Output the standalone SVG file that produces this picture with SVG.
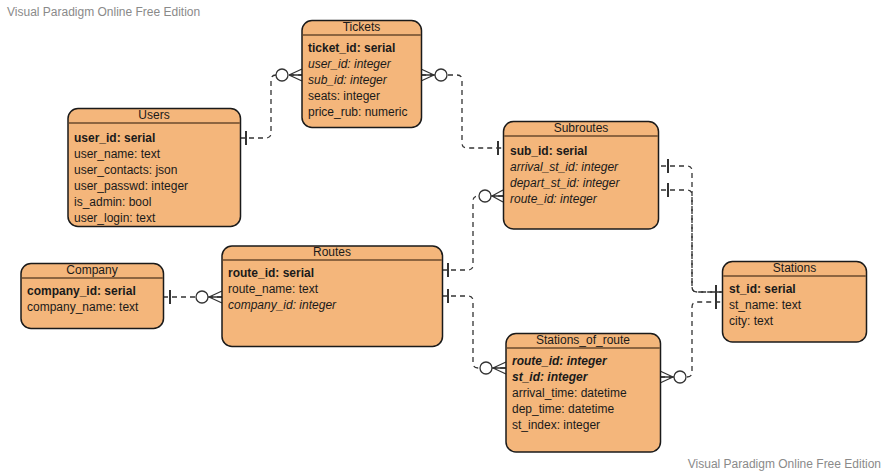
<svg xmlns="http://www.w3.org/2000/svg" width="887" height="473" viewBox="0 0 887 473">
<style>
.box{fill:#F4B67B;stroke:#1a1a1a;stroke-width:1.5}
.sep{stroke:#6b4a2c;stroke-width:1.5}
text{font-family:"Liberation Sans",Arial,sans-serif;font-size:12px;fill:#1a1a1a}
.title{text-anchor:middle}
.b{font-weight:bold}
.i{font-style:italic}
.wm{fill:#8a8a8a}
.con{fill:none;stroke:#333;stroke-width:1.3;stroke-dasharray:5,4}
.crow{fill:none;stroke:#333;stroke-width:1.3}
.circ{fill:#fff;stroke:#333;stroke-width:1.3}
.bar{stroke:#333;stroke-width:2}
</style>
<rect width="887" height="473" fill="#fff"/>
<text class="wm" x="7" y="16">Visual Paradigm Online Free Edition</text>
<text class="wm" x="881" y="468" text-anchor="end">Visual Paradigm Online Free Edition</text>

<g id="connectors">
  <g id="c-users-tickets">
    <path class="con" d="M240,138 H266 Q271,138 271,133 V80 Q271,75 276,75 H302"/>
    <line class="bar" x1="246" y1="131" x2="246" y2="145"/>
    <path class="crow" d="M289,75 L302,69 M289,75 L302,75 M289,75 L302,81"/>
    <circle class="circ" cx="282" cy="75" r="6"/>
  </g>
  <g id="c-tickets-subroutes">
    <path class="con" d="M421,75 H457 Q462,75 462,80 V143 Q462,148 467,148 H503"/>
    <path class="crow" d="M434,75 L421,69 M434,75 L421,75 M434,75 L421,81"/>
    <circle class="circ" cx="441" cy="75" r="6"/>
    <line class="bar" x1="498" y1="141" x2="498" y2="155"/>
  </g>
  <g id="c-subroutes-stations-arr">
    <path class="con" d="M661,166 H687 Q692,166 692,171 V287 Q692,292 697,292 H722"/>
    <line class="bar" x1="668" y1="159" x2="668" y2="173"/>
  </g>
  <g id="c-subroutes-stations-dep">
    <path class="con" d="M661,190 H687 Q692,190 692,195 V287 Q692,292 697,292 H722"/>
    <line class="bar" x1="668" y1="183" x2="668" y2="197"/>
    <line class="bar" x1="716" y1="285" x2="716" y2="299"/>
  </g>
  <g id="c-sor-stations">
    <path class="con" d="M660,377 H687 Q692,377 692,372 V307 Q692,302 697,302 H722"/>
    <path class="crow" d="M673,377 L660,371 M673,377 L660,377 M673,377 L660,383"/>
    <circle class="circ" cx="680" cy="377" r="6"/>
    <line class="bar" x1="716" y1="295" x2="716" y2="309"/>
  </g>
  <g id="c-routes-subroutes">
    <path class="con" d="M442,270 H468 Q473,270 473,265 V201 Q473,196 478,196 H503"/>
    <line class="bar" x1="448" y1="263" x2="448" y2="277"/>
    <path class="crow" d="M492,196 L503,190 M492,196 L503,196 M492,196 L503,202"/>
    <circle class="circ" cx="485" cy="196" r="6"/>
  </g>
  <g id="c-routes-sor">
    <path class="con" d="M442,296 H468 Q473,296 473,301 V363 Q473,368 478,368 H506"/>
    <line class="bar" x1="448" y1="289" x2="448" y2="303"/>
    <path class="crow" d="M493,368 L506,362 M493,368 L506,368 M493,368 L506,374"/>
    <circle class="circ" cx="486" cy="368" r="6"/>
  </g>
  <g id="c-company-routes">
    <path class="con" d="M163,297 H222"/>
    <line class="bar" x1="170" y1="290" x2="170" y2="304"/>
    <path class="crow" d="M209,297 L222,291 M209,297 L222,297 M209,297 L222,303"/>
    <circle class="circ" cx="202" cy="297" r="6"/>
  </g>
</g>

<g id="tickets">
  <rect class="box" x="302" y="20.5" width="119.5" height="107" rx="10"/>
  <line class="sep" x1="302.7" y1="35" x2="420.8" y2="35"/>
  <text class="title" x="361.5" y="31">Tickets</text>
  <text class="b" x="308" y="52">ticket_id: serial</text>
  <text class="i" x="308" y="68">user_id: integer</text>
  <text class="i" x="308" y="84">sub_id: integer</text>
  <text x="308" y="100">seats: integer</text>
  <text x="308" y="116">price_rub: numeric</text>
</g>

<g id="users">
  <rect class="box" x="68" y="108.5" width="172.5" height="118" rx="10"/>
  <line class="sep" x1="68.7" y1="123" x2="239.8" y2="123"/>
  <text class="title" x="154" y="119">Users</text>
  <text class="b" x="74" y="142">user_id: serial</text>
  <text x="74" y="158">user_name: text</text>
  <text x="74" y="174">user_contacts: json</text>
  <text x="74" y="190">user_passwd: integer</text>
  <text x="74" y="206">is_admin: bool</text>
  <text x="74" y="222">user_login: text</text>
</g>

<g id="company">
  <rect class="box" x="21" y="263.5" width="142.5" height="65" rx="10"/>
  <line class="sep" x1="21.7" y1="278" x2="162.8" y2="278"/>
  <text class="title" x="92" y="274">Company</text>
  <text class="b" x="27" y="295">company_id: serial</text>
  <text x="27" y="311">company_name: text</text>
</g>

<g id="routes">
  <rect class="box" x="222" y="246" width="220.5" height="100.5" rx="10"/>
  <line class="sep" x1="222.7" y1="260" x2="441.8" y2="260"/>
  <text class="title" x="332" y="256">Routes</text>
  <text class="b" x="228" y="277">route_id: serial</text>
  <text x="228" y="293">route_name: text</text>
  <text class="i" x="228" y="309">company_id: integer</text>
</g>

<g id="subroutes">
  <rect class="box" x="503.5" y="121.5" width="155" height="107.5" rx="10"/>
  <line class="sep" x1="504.2" y1="136" x2="657.8" y2="136"/>
  <text class="title" x="581" y="132">Subroutes</text>
  <text class="b" x="510" y="155">sub_id: serial</text>
  <text class="i" x="510" y="171">arrival_st_id: integer</text>
  <text class="i" x="510" y="187">depart_st_id: integer</text>
  <text class="i" x="510" y="203">route_id: integer</text>
</g>

<g id="stations">
  <rect class="box" x="722.5" y="261.5" width="144" height="80.5" rx="10"/>
  <line class="sep" x1="723.2" y1="276" x2="865.8" y2="276"/>
  <text class="title" x="794.5" y="272">Stations</text>
  <text class="b" x="729" y="293">st_id: serial</text>
  <text x="729" y="309">st_name: text</text>
  <text x="729" y="325">city: text</text>
</g>

<g id="stations_of_route">
  <rect class="box" x="506" y="333.5" width="154.5" height="118.5" rx="10"/>
  <line class="sep" x1="506.7" y1="348" x2="659.8" y2="348"/>
  <text class="title" x="583" y="344">Stations_of_route</text>
  <text class="b i" x="512" y="365">route_id: integer</text>
  <text class="b i" x="512" y="381">st_id: integer</text>
  <text x="512" y="397">arrival_time: datetime</text>
  <text x="512" y="413">dep_time: datetime</text>
  <text x="512" y="429">st_index: integer</text>
</g>
</svg>
